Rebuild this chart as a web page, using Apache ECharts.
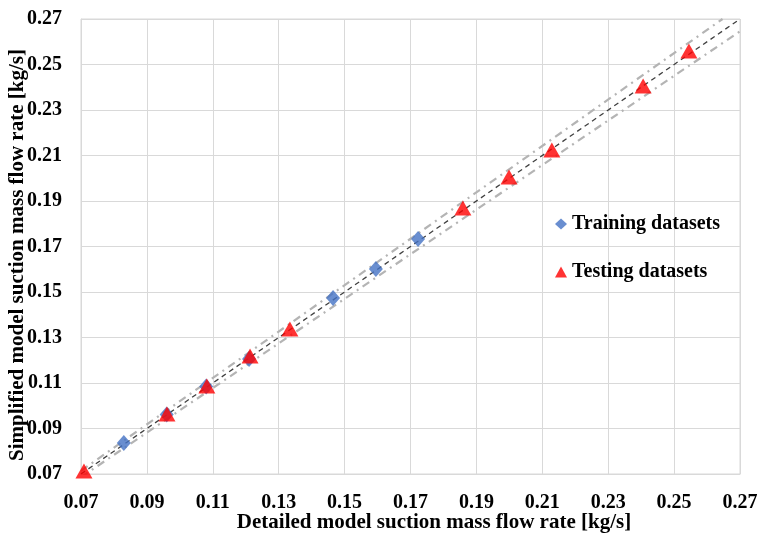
<!DOCTYPE html>
<html>
<head>
<meta charset="utf-8">
<script src="https://cdn.jsdelivr.net/npm/echarts@6/dist/echarts.min.js"></script>
<style>html,body{margin:0;padding:0;background:#fff}#c{width:760px;height:535px}</style>
</head>
<body>
<div id="c"></div>
<script>
// Data
var trainingX = [0.083, 0.096, 0.108, 0.121, 0.1465, 0.1595, 0.1723];
var trainingY = [0.0836, 0.0962, 0.1085, 0.1205, 0.1474, 0.1601, 0.1733];
var testingX = [0.0709, 0.0961, 0.1082, 0.1213, 0.1334, 0.1859, 0.1999, 0.2129, 0.2406, 0.2545];
var testingY = [0.0713, 0.0964, 0.1087, 0.1219, 0.1337, 0.1869, 0.2005, 0.2124, 0.2405, 0.2559];
var idealX = [0.07, 0.27];
var idealY = [0.07, 0.27];
var upperX = [0.07, 0.2647];
var upperY = [0.0714, 0.27];
var lowerX = [0.07, 0.27];
var lowerY = [0.0686, 0.2646];
var xTitle = 'Detailed model suction mass flow rate [kg/s]';
var yTitle = 'Simplified model suction mass flow rate [kg/s]';

function zip(a, b) { return a.map(function (v, i) { return [v, b[i]]; }); }

var font = '"Liberation Serif", "Times New Roman", serif';
var chart = echarts.init(document.getElementById('c'), null, {renderer: 'canvas'});
var axisCommon = {
  type: 'value', min: 0.07, max: 0.27, interval: 0.02,
  axisLine: {show: true, lineStyle: {color: '#d9d9d9', width: 1}},
  axisTick: {show: false},
  splitLine: {show: true, lineStyle: {color: '#d9d9d9', width: 1}},
  axisLabel: {fontFamily: font, fontWeight: 'bold', fontSize: 20, color: '#000', margin: 19,
    formatter: function (v) { return v.toFixed(2); }}
};
var titleFont = 'bold 21px ' + font;
chart.setOption({
  animation: false,
  backgroundColor: '#fff',
  grid: {left: 81, top: 19, width: 659, height: 455, show: true, borderColor: '#d9d9d9', borderWidth: 1,
    containLabel: false, outerBoundsMode: 'none'},
  legend: {
    orient: 'vertical', left: 550, top: 209, itemGap: 28,
    itemWidth: 12, itemHeight: 11,
    textStyle: {fontFamily: font, fontWeight: 'bold', fontSize: 20, color: '#000'},
    data: [{name: 'Training datasets', icon: 'diamond'}, {name: 'Testing datasets', icon: 'triangle'}]
  },
  graphic: [
    {type: 'text', x: 434, y: 523, silent: true,
      style: {text: xTitle, font: titleFont, fill: '#000', align: 'center', verticalAlign: 'middle',
        textAlign: 'center', textVerticalAlign: 'middle'}},
    {type: 'text', x: 18, y: 255, rotation: Math.PI / 2, silent: true,
      style: {text: yTitle, font: titleFont, fill: '#000', align: 'center', verticalAlign: 'middle',
        textAlign: 'center', textVerticalAlign: 'middle'}}
  ],
  xAxis: Object.assign({}, axisCommon),
  yAxis: Object.assign({}, axisCommon),
  series: [
    {type: 'line', name: 'upper', data: zip(upperX, upperY), symbol: 'none', silent: true,
      lineStyle: {color: '#b4b4b4', width: 2.2, type: [8, 5, 2, 5]}, z: 1},
    {type: 'line', name: 'lower', data: zip(lowerX, lowerY), symbol: 'none', silent: true,
      lineStyle: {color: '#b4b4b4', width: 2.2, type: [8, 5, 2, 5]}, z: 1},
    {type: 'line', name: 'ideal', data: zip(idealX, idealY), symbol: 'none', silent: true,
      lineStyle: {color: '#404040', width: 1.3, type: [5, 4]}, z: 2},
    {type: 'scatter', name: 'Training datasets', data: zip(trainingX, trainingY),
      symbol: 'diamond', symbolSize: [14, 16], itemStyle: {color: '#4472c4'}, z: 3},
    {type: 'scatter', name: 'Testing datasets', data: zip(testingX, testingY),
      symbol: 'triangle', symbolSize: [17, 15], itemStyle: {color: '#ff0000'}, z: 4}
  ]
});
</script>
</body>
</html>
